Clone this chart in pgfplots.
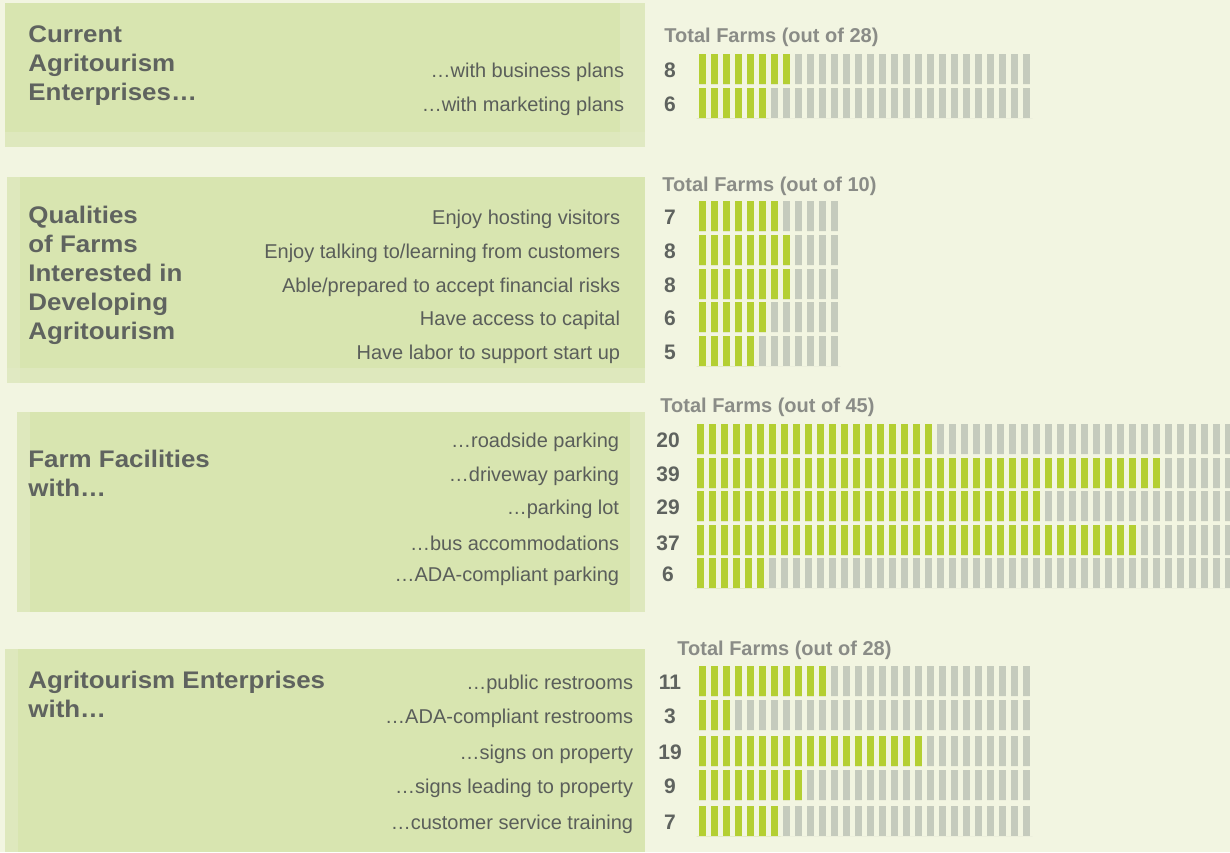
\documentclass[border=0pt]{standalone}
\usepackage{fontspec}
\setmainfont{Liberation Sans}
\newfontfamily\titlefont[FakeStretch=1.08]{Liberation Sans}
\usepackage{pgfplots}
\pgfplotsset{compat=1.18}
\usepackage{pgfplotstable}

\definecolor{bg}{HTML}{F2F5E1}
\definecolor{panel}{HTML}{D8E5B0}
\definecolor{panelhi}{HTML}{E2EBC6}
\definecolor{cellg}{HTML}{B4CF32}
\definecolor{cellx}{HTML}{C5CBBD}
\definecolor{titc}{HTML}{5F635F}
\definecolor{labc}{HTML}{5A5E5A}
\definecolor{hdc}{HTML}{8A8C87}

% label, gap to number centre, number
\newcommand\lab[3]{#1\hspace*{#2}\makebox[0pt]{\fontsize{10.5}{12}\selectfont\bfseries\color{titc}#3}}

\pgfplotsset{waffle/.style={
  scale only axis, anchor=north west,
  xbar, y dir=reverse, xmin=0,
  axis on top, axis line style={draw=none}, tick style={draw=none},
  xmajorgrids, major grid style={draw=bg, line width=2.35pt},
  xticklabels={},
  yticklabel style={anchor=east, inner sep=0pt, xshift=-8.8pt, yshift=-1.8pt,
    font=\fontsize{10}{12}\selectfont, text=labc},
}}

% y = row centre (px), v = farms, n = cells in the row
\pgfplotstableread{
y v n
69 8 28
103 6 28
}\tabA
\pgfplotstableread{
y v n
216 7 12
250 8 12
284 8 12
317 6 12
351 5 12
}\tabB
\pgfplotstableread{
y v n
439 20 45
473 39 45
506 29 45
540 37 45
573 6 45
}\tabC
\pgfplotstableread{
y v n
681 11 28
715 3 28
751 19 28
785 9 28
821 7 28
}\tabD

\begin{document}
\begin{tikzpicture}[x=0.5pt, y=-0.5pt]
\useasboundingbox (0,0) rectangle (1230,852);
\fill[bg] (0,0) rectangle (1230,852);
% green panels with a few lighter, worn patches
\fill[panel] (5,3) rectangle (645,147);
\fill[panel] (7,177) rectangle (645,383);
\fill[panel] (17,412) rectangle (645,612);
\fill[panel] (5,649) rectangle (645,852);
\fill[panelhi, opacity=0.6] (5,132) rectangle (645,147);
\fill[panelhi, opacity=0.6] (620,3) rectangle (645,147);
\fill[panelhi, opacity=0.6] (7,177) rectangle (20,383);
\fill[panelhi, opacity=0.6] (7,368) rectangle (645,383);
\fill[panelhi, opacity=0.6] (17,412) rectangle (30,612);
\fill[panelhi, opacity=0.6] (630,412) rectangle (645,612);
\fill[panelhi, opacity=0.6] (5,649) rectangle (18,852);

\tikzset{ttl/.style={anchor=base west, inner sep=0pt, text=titc,
  font=\titlefont\fontsize{12}{14}\selectfont\bfseries},
  hdr/.style={anchor=base west, inner sep=0pt, text=hdc,
  font=\fontsize{10}{12}\selectfont\bfseries}}

\node[ttl] at (28,42) {Current};
\node[ttl] at (28,71) {Agritourism};
\node[ttl] at (28,100) {Enterprises…};

\node[ttl] at (28,223) {Qualities};
\node[ttl] at (28,252) {of Farms};
\node[ttl] at (28,281) {Interested in};
\node[ttl] at (28,310) {Developing};
\node[ttl] at (28,339) {Agritourism};

\node[ttl] at (28,467) {Farm Facilities};
\node[ttl] at (28,496) {with…};

\node[ttl] at (28,688) {Agritourism Enterprises};
\node[ttl] at (28,717) {with…};

\node[hdr] at (664,42) {Total Farms (out of 28)};
\node[hdr] at (662,191) {Total Farms (out of 10)};
\node[hdr] at (660,412) {Total Farms (out of 45)};
\node[hdr] at (677,655) {Total Farms (out of 28)};

% positions in pt: px * 0.5, y downwards
\begin{axis}[waffle, at={(348.3pt,-27pt)}, width=168pt, height=32pt,
  xmax=28, ymin=54, ymax=118, xtick={0,...,28}, ytick={69,103},
  yticklabels={{\lab{…with business plans}{23pt}{8}},
               {\lab{…with marketing plans}{23pt}{6}}}]
\addplot[fill=cellx, draw=none, bar width=15pt, bar shift=0pt] table[x=n, y=y] {\tabA};
\addplot[fill=cellg, draw=none, bar width=15pt, bar shift=0pt] table[x=v, y=y] {\tabA};
\end{axis}

\begin{axis}[waffle, at={(348.3pt,-100.5pt)}, width=72pt, height=82.5pt,
  xmax=12, ymin=201, ymax=366, xtick={0,...,12}, ytick={216,250,284,317,351},
  yticklabels={{\lab{Enjoy hosting visitors}{25pt}{7}},
               {\lab{Enjoy talking to/learning from customers}{25pt}{8}},
               {\lab{Able/prepared to accept financial risks}{25pt}{8}},
               {\lab{Have access to capital}{25pt}{6}},
               {\lab{Have labor to support start up}{25pt}{5}}}]
\addplot[fill=cellx, draw=none, bar width=15pt, bar shift=0pt] table[x=n, y=y] {\tabB};
\addplot[fill=cellg, draw=none, bar width=15pt, bar shift=0pt] table[x=v, y=y] {\tabB};
\end{axis}

\begin{axis}[waffle, at={(347.3pt,-212pt)}, width=267.72pt, height=82pt,
  xmax=44.62, ymin=424, ymax=588, xtick={0,...,44}, ytick={439,473,506,540,573},
  yticklabels={{\lab{…roadside parking}{24.5pt}{20}},
               {\lab{…driveway parking}{24.5pt}{39}},
               {\lab{…parking lot}{24.5pt}{29}},
               {\lab{…bus accommodations}{24.5pt}{37}},
               {\lab{…ADA-compliant parking}{24.5pt}{6}}}]
\addplot[fill=cellx, draw=none, bar width=15pt, bar shift=0pt] table[x=n, y=y] {\tabC};
\addplot[fill=cellg, draw=none, bar width=15pt, bar shift=0pt] table[x=v, y=y] {\tabC};
\end{axis}

\begin{axis}[waffle, at={(348.3pt,-333pt)}, width=168pt, height=85pt,
  xmax=28, ymin=666, ymax=836, xtick={0,...,28}, ytick={681,715,751,785,821},
  yticklabels={{\lab{…public restrooms}{18.5pt}{11}},
               {\lab{…ADA-compliant restrooms}{18.5pt}{3}},
               {\lab{…signs on property}{18.5pt}{19}},
               {\lab{…signs leading to property}{18.5pt}{9}},
               {\lab{…customer service training}{18.5pt}{7}}}]
\addplot[fill=cellx, draw=none, bar width=15pt, bar shift=0pt] table[x=n, y=y] {\tabD};
\addplot[fill=cellg, draw=none, bar width=15pt, bar shift=0pt] table[x=v, y=y] {\tabD};
\end{axis}
\end{tikzpicture}
\end{document}
